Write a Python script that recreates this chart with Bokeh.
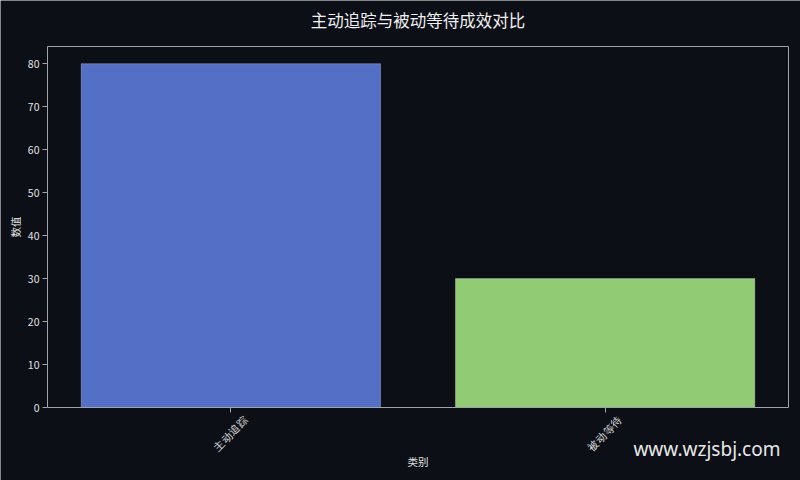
from bokeh.plotting import figure
from bokeh.models import (Range1d, FixedTicker, Label, LabelSet, ColumnDataSource,
                          LinearAxis)
from bokeh.embed import file_html
from bokeh.resources import INLINE
import math

title = "主动追踪与被动等待成效对比"
x_label = "类别"
y_label = "数值"
categories = ["主动追踪", "被动等待"]
values = [80, 30]
colors = ["#5470c6", "#91cc75"]
y_ticks = [0, 10, 20, 30, 40, 50, 60, 70, 80]
watermark = "www.wzjsbj.com"

BG = "#0c0f16"
FONT = "Noto Sans CJK SC"
TXT = "#e0e0e0"
SPINE = "#a0a4aa"

W, H = 800, 480
BOX_L, BOX_R, BOX_T, BOX_B = 47, 788, 46, 407

Y_TOP = 84
X_LO, X_HI = -0.49, len(categories) - 1 + 0.49
ux = (BOX_R - BOX_L) / (X_HI - X_LO)
uy = (BOX_B - BOX_T) / Y_TOP

xs = list(range(len(categories)))
src = ColumnDataSource(dict(x=xs, top=values, color=colors,
                            base=[0] * len(xs), name=categories))

p = figure(width=W, height=H, output_backend="svg", toolbar_location=None,
           x_range=Range1d(X_LO - BOX_L / ux, X_HI + (W - BOX_R) / ux),
           y_range=Range1d(-(H - BOX_B) / uy, Y_TOP + BOX_T / uy),
           background_fill_color=BG, border_fill_color=BG,
           min_border=0)

p.vbar(x="x", top="top", width=0.8, bottom=0, source=src, fill_color="color",
       line_color="#ffffff", line_alpha=0.25, line_width=1)

p.grid.visible = False
p.outline_line_color = None

p.xaxis.fixed_location = 0
p.xaxis.bounds = (X_LO, X_HI)
p.xaxis.ticker = FixedTicker(ticks=xs)
p.xaxis.major_label_text_alpha = 0
p.yaxis.fixed_location = X_LO
p.yaxis.bounds = (0, Y_TOP)
p.yaxis.ticker = FixedTicker(ticks=y_ticks)

for ax in (p.xaxis, p.yaxis):
    ax.axis_line_color = None
    ax.major_tick_line_color = SPINE
    ax.major_tick_out = 5
    ax.major_tick_in = 0
    ax.minor_tick_line_color = None
    ax.major_label_text_color = TXT
    ax.major_label_text_font = FONT
    ax.major_label_text_font_size = "10.5px"
p.yaxis.major_label_standoff = 3


def spine(place, loc, bounds):
    ax = LinearAxis(ticker=FixedTicker(ticks=[]), fixed_location=loc, bounds=bounds,
                    axis_line_color=SPINE, major_label_text_alpha=0,
                    major_tick_line_color=None, minor_tick_line_color=None)
    p.add_layout(ax, place)


spine("left", X_LO, (0, Y_TOP))
spine("right", X_HI, (0, Y_TOP))
spine("above", Y_TOP, (X_LO, X_HI))
spine("below", 0, (X_LO, X_HI))

cat_labels = LabelSet(x="x", y="base", text="name", source=src, y_offset=-26,
                      angle=math.pi / 4, text_align="center", text_baseline="middle",
                      text_color=TXT, text_font=FONT, text_font_size="10.5px")
p.add_layout(cat_labels)

cx = (BOX_L + BOX_R) / 2
p.add_layout(Label(x=cx, y=H - 19, x_units="screen", y_units="screen", text=title,
                   text_align="center", text_baseline="middle", text_color="#f0f0f0",
                   text_font=FONT, text_font_size="16.5px"))
p.add_layout(Label(x=cx, y=H - 461, x_units="screen", y_units="screen", text=x_label,
                   text_align="center", text_baseline="middle", text_color=TXT,
                   text_font=FONT, text_font_size="10.5px"))
p.add_layout(Label(x=15, y=H - (BOX_T + BOX_B) / 2, x_units="screen", y_units="screen",
                   text=y_label, angle=math.pi / 2,
                   text_align="center", text_baseline="middle", text_color=TXT,
                   text_font=FONT, text_font_size="10.5px"))
p.add_layout(Label(x=780, y=H - 448, x_units="screen", y_units="screen", text=watermark,
                   text_align="right", text_baseline="middle", text_color="#e8e8e8",
                   text_font="Noto Sans", text_font_size="19px"))

open("out.html", "w").write(file_html(p, INLINE))
